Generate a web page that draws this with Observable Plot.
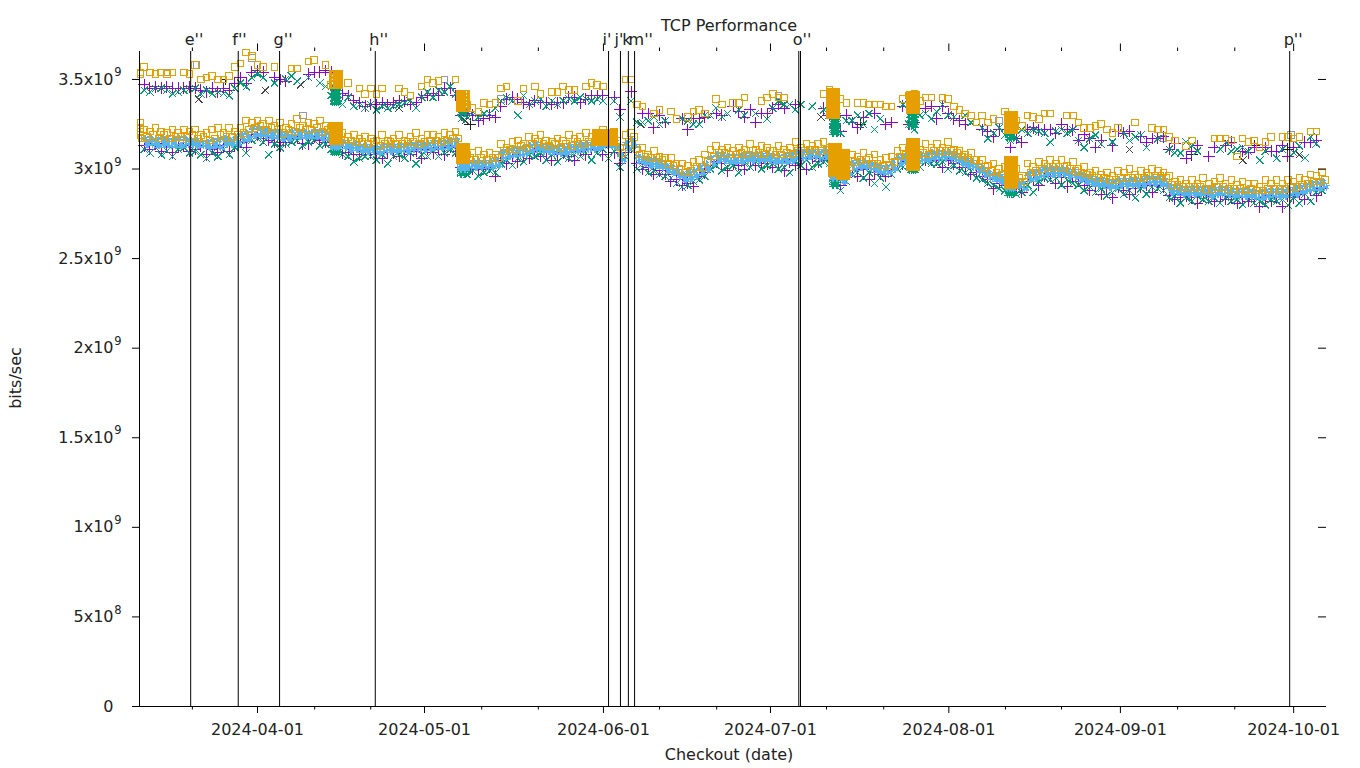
<!DOCTYPE html>
<html><head><meta charset="utf-8">
<style>html,body{margin:0;padding:0;background:#fff}svg{display:block}</style>
<script src="https://cdn.jsdelivr.net/npm/d3@7"></script>
<script src="https://cdn.jsdelivr.net/npm/@observablehq/plot@0.6"></script>
</head><body><div id="chart"></div>
<script>
// x values: days since 2024-04-01; throughput values: units of 10 Mbit/s
const days = d3.range(-20, 189);
const majorDays = [0, 29.5, 61.1, 90.6, 122.1, 152.4, 183];
const majorLabels = ["2024-04-01","2024-05-01","2024-06-01","2024-07-01","2024-08-01","2024-09-01","2024-10-01"];
const minorDays = [-11.5, 10.1, 20, 39.6, 49.6, 71, 81.1, 100.5, 110.6, 132.1, 142, 162.5, 172.6];
const yTicks = [0, 5e8, 1e9, 1.5e9, 2e9, 2.5e9, 3e9, 3.5e9];
const yMantissa = ["0","5x10","1x10","1.5x10","2x10","2.5x10","3x10","3.5x10"];
const yExponent = ["","8","9","9","9","9","9","9"];
const eventDays = [-11.8, -3.4, 3.9, 20.8, 62, 64.1, 65.5, 66.6, 95.6, 95.9, 182.3];
const eventLabels = ["e''","f''","g''","h''","i'","j'","k","m''","o''","","p''"];

const lowBlueA = [
317,317,316,317,316,316,317,317,316,316,315,315,316,316,317,316,317,319,320,323,
323,322,321,321,320,320,321,321,321,320,321,321,320,318,317,315,314,314,313,313,
312,312,313,313,313,313,313,314,314,314,314,315,315,315,316,316,305,304,304,304,
304,304,305,309,310,311,311,312,313,314,313,313,312,312,312,313,313,314,314,314,
315,316,316,315,308,314,316,307,306,305,305,304,302,301,299,297,298,299,301,303,
306,308,308,307,307,307,308,308,308,308,308,307,307,307,308,309,309,310,310,309,
310,309,301,296,300,303,304,304,303,302,301,301,303,306,307,308,307,308,308,309,
309,309,309,308,306,305,304,302,300,298,297,296,295,296,294,292,297,298,299,300,
300,300,300,299,299,297,296,295,294,294,293,293,294,294,294,294,294,295,295,295,
294,290,290,289,289,289,289,289,288,289,289,289,288,288,288,288,287,287,288,288,
288,288,289,289,290,291,292,292,293];
const lowBlueB = [
314,314,313,314,313,313,313,314,314,313,313,312,313,312,314,314,314,316,317,319,
319,319,318,318,317,317,318,318,318,318,318,317,317,315,314,312,311,311,310,310,
310,309,310,310,310,310,310,311,311,311,311,312,312,312,313,312,302,301,301,301,
301,301,302,306,307,308,308,309,310,311,310,310,309,309,309,310,310,311,311,311,
312,313,313,312,305,311,313,304,303,302,302,301,299,298,296,294,295,296,298,300,
303,305,305,304,304,304,305,305,305,305,305,304,304,304,305,306,306,307,307,306,
307,306,298,293,297,300,301,301,300,299,298,298,300,303,304,305,304,305,305,306,
306,306,306,305,303,302,301,299,297,295,294,293,292,293,291,289,294,295,296,297,
297,297,297,296,296,294,293,292,291,291,290,290,291,291,291,291,291,292,292,292,
291,287,287,286,286,286,286,286,285,286,286,286,285,285,285,285,284,284,285,285,
285,285,286,286,287,288,289,289,290];
const lowOrangeA = [
322,321,323,321,320,322,320,322,321,322,319,320,322,323,320,323,321,323,327,326,
327,325,327,324,326,323,325,328,324,326,325,327,324,323,321,320,318,319,317,318,
317,316,319,316,317,319,316,318,320,317,319,319,318,320,319,321,310,308,309,310,
308,309,308,314,312,315,316,314,318,317,319,316,315,317,316,319,317,318,320,318,
320,322,319,321,312,319,320,311,312,308,310,307,306,306,303,303,302,304,305,308,
311,313,311,312,310,312,311,314,311,313,312,310,313,311,312,315,312,314,313,314,
315,312,306,300,304,308,307,309,306,308,305,306,307,310,312,311,313,311,314,312,
314,312,315,311,310,308,309,305,305,302,303,300,301,299,300,296,303,301,304,303,
305,303,305,302,304,300,301,298,299,297,298,296,299,298,300,297,299,298,300,299,
298,296,293,294,292,294,292,295,292,293,295,292,294,291,293,292,292,290,294,292,
294,292,294,293,295,294,297,296,298];
const lowOrangeB = [
318,319,317,319,317,318,318,318,319,317,318,316,317,319,318,318,319,320,322,323,
324,322,323,322,320,322,321,323,322,322,323,321,322,319,319,316,316,315,315,314,
315,313,314,315,314,314,315,315,314,315,316,316,315,316,317,317,306,306,305,306,
305,306,306,310,311,311,313,312,314,315,314,313,314,312,314,313,315,314,315,315,
316,317,318,316,309,315,318,308,307,306,306,305,303,302,300,298,299,301,301,304,
307,309,309,308,308,309,308,310,309,308,310,308,308,309,308,310,310,311,311,310,
311,310,302,297,301,304,305,305,303,303,302,302,304,307,308,309,308,309,308,310,
310,310,310,309,307,306,305,303,301,299,298,297,296,297,295,293,298,299,300,301,
301,301,301,300,299,298,297,296,295,295,294,294,295,295,295,295,295,296,296,296,
295,291,291,290,290,290,290,289,289,290,290,289,289,289,288,289,288,288,289,289,
289,289,290,290,291,292,293,293,294];
const lowGreen = [
311,309,312,308,310,307,311,312,309,310,308,306,309,307,311,308,312,313,309,316,
317,315,308,314,312,314,315,316,313,315,316,313,314,311,310,308,307,304,306,307,
307,305,308,303,307,308,306,309,303,308,307,310,307,309,311,309,299,297,299,296,
298,299,298,303,305,302,306,304,308,307,309,305,308,304,307,306,308,307,309,305,
309,311,306,310,301,307,311,300,301,298,299,297,296,295,292,290,291,293,294,296,
300,302,299,301,302,298,303,301,304,300,302,303,300,301,298,304,302,305,301,303,
304,303,293,288,293,297,298,295,298,292,295,290,297,300,301,302,303,301,304,303,
303,304,300,302,299,298,299,295,294,292,291,289,288,290,286,287,291,287,293,295,
294,295,291,294,292,291,288,290,287,289,285,287,289,286,288,284,289,286,290,289,
288,284,285,281,284,282,285,283,282,284,281,284,282,283,280,283,281,282,280,283,
282,283,280,284,281,286,282,287,288];
const lowPurple = [
313,311,314,310,312,309,312,313,310,311,313,308,311,309,313,310,313,315,312,318,
319,317,316,315,313,315,317,317,314,314,318,316,315,313,312,309,309,308,308,310,
309,308,306,309,309,307,310,308,310,306,311,309,311,308,312,310,301,299,300,300,
300,301,296,305,303,307,304,308,306,310,307,309,305,308,309,307,305,310,308,311,
311,308,312,309,303,309,312,303,300,301,297,299,297,293,294,291,292,290,296,298,
302,304,303,299,303,302,300,304,302,304,303,301,303,299,304,302,306,300,306,304,
306,305,296,291,295,299,296,300,294,298,297,296,299,302,303,304,301,303,305,305,
305,301,305,303,301,301,297,298,296,294,289,292,291,288,290,287,293,294,291,296,
296,292,295,290,295,293,291,288,290,286,289,284,290,288,286,289,290,291,287,291,
290,285,283,284,285,284,281,285,284,282,285,283,284,281,284,282,283,279,284,282,
284,279,285,284,286,283,288,285,289];

const upOrange = [
357,354,353,354,353,354,null,354,353,358,350,351,352,350,350,352,357,359,365,363,
358,357,null,357,null,null,356,356,null,360,361,null,358,347,350,null,348,null,345,342,
345,342,345,null,null,345,343,341,null,346,350,348,349,null,null,350,340,336,334,332,
337,336,337,345,346,null,338,345,null,346,342,null,343,343,346,344,344,null,346,348,
347,346,null,null,null,350,350,336,335,null,331,333,null,332,328,null,329,332,333,331,
null,339,336,null,337,337,340,null,null,338,340,342,340,340,null,null,null,null,null,null,
342,344,340,339,337,null,337,337,336,336,336,335,335,null,339,341,342,338,340,340,
null,340,339,335,333,331,330,326,330,326,328,null,332,329,327,324,330,329,328,331,
331,null,null,330,330,326,323,323,324,325,322,320,323,null,null,326,null,null,323,322,
322,318,316,null,313,316,null,null,null,317,317,317,316,307,317,315,316,312,315,318,
null,318,318,317,318,null,321,321,null];
const upPurple = [
347,345,346,345,346,345,345,345,346,345,344,343,345,343,345,344,348,351,348,354,
355,354,null,351,350,349,null,null,null,353,354,354,355,354,344,342,341,338,337,335,
336,336,337,336,337,338,338,336,337,340,341,342,341,345,345,341,330,331,330,327,
328,330,329,335,339,340,339,337,336,338,337,337,336,337,337,340,340,337,339,341,
341,341,null,340,333,null,343,null,331,331,323,330,326,null,null,328,322,328,328,329,
null,331,330,null,335,332,329,333,326,331,331,334,336,334,null,336,null,null,null,null,
334,330,324,321,330,326,323,329,null,331,null,325,326,null,335,325,326,null,334,335,
328,335,331,328,327,325,null,null,322,321,318,322,322,312,317,315,322,323,322,322,
322,320,325,322,322,316,319,317,312,316,null,313,321,320,321,null,318,315,317,317,
318,311,314,null,306,310,313,null,307,312,null,313,315,null,310,309,312,null,312,310,
310,313,307,312,null,315,315,316,null];
const upGreen = [
344,343,345,345,344,342,343,344,345,345,342,344,342,343,342,341,345,348,346,351,
353,351,null,348,null,350,352,349,null,351,null,348,346,341,338,336,340,335,336,334,
336,333,335,334,335,336,337,338,334,340,343,340,344,343,346,342,328,329,331,329,
331,331,334,338,340,338,330,341,336,338,339,335,338,336,338,339,338,340,339,338,
339,338,null,338,329,null,338,326,326,327,329,325,327,null,null,328,327,325,325,330,
330,334,329,331,null,333,330,null,331,null,328,334,338,336,336,333,336,null,335,null,
333,330,322,320,327,327,330,325,331,322,328,null,null,null,336,325,322,330,331,328,
332,336,330,329,null,330,326,null,323,317,320,323,319,316,317,322,320,322,321,320,
315,321,322,320,322,316,312,317,319,314,null,315,null,320,316,318,319,312,null,317,
null,311,309,309,315,313,310,null,null,null,311,315,310,311,312,310,null,305,310,null,
306,311,null,309,313,306,318,314,null];

// repeated runs on the busy checkout days
const denseRuns = [-0.5, -0.2, 0.2, 0.5];
const denseOrange = [
 {day: 13.8, levels: [324,323,322,321,320,319,318,317,316]},
 {day: 36.3, levels: [312,311,310,309,308,307,306,305]},
 {day: 60.4, levels: [320,319,318,317,316,315]},
 {day: 62.4, levels: [320,319,318,317,316,315]},
 {day: 102, levels: [312,311,310,309,308,307,306,305,304,303,302,301,300,299,298]},
 {day: 103.4, levels: [309,308,307,306,305,304,303,302,301,300,299,298,297,296]},
 {day: 115.7, levels: [315,314,313,312,311,310,309,308,307,306,305,304,303,302,301]},
 {day: 133, levels: [305,304,303,302,301,300,299,298,297,296,295,294,293,292,291]},
 {day: 13.8, levels: [353,351,349,347]},
 {day: 36.3, levels: [342,340,338,336,334]},
 {day: 101.6, levels: [343,342,341,340,339,338,337,336,335,334,333,332,331,330]},
 {day: 115.7, levels: [341,340,339,338,337,336,335,334,333]},
 {day: 133, levels: [330,329,328,327,326,325,324,323,322]}
];
const denseGreen = [
 {day: 13.8, levels: [345,343,341,339,337,311,310,309]},
 {day: 36.3, levels: [333,331,299,298,297]},
 {day: 102, levels: [330,328,326,324,322,320,296,295,293,292,291]},
 {day: 115.7, levels: [332,330,328,326,324,301,300,299]},
 {day: 133, levels: [321,319,317,291,289,288,287,286]}
];
const denseBlue = [
 {day: 13.8, levels: [315,314,313,312]},
 {day: 36.3, levels: [304,303,302,301,300]},
 {day: 102, levels: [298,297,296,295]},
 {day: 115.7, levels: [305,304,303,302]},
 {day: 133, levels: [292,291,290,289]}
];
const leftOrangeDays = [-20.7, -20.7, -20.7, -20.7, -20.5, -20.7, -20.7];
const leftOrangeVals = [326, 323, 321, 319, 317, 354, 353];
const graySquareDays = [-16, -10.8, -1, 8, 33, 37, 43, 92, 101, 131, 160, 182.5, 186];
const graySquareVals = [354, 358, 362, 330, 350, 335, 339, 341, 330, 327, 317, 319, 321];
const darkTimesDays = [-10.4, 1.4, 7.6, 25, 36.7, 67.7, 99.5, 154, 174, 184];
const darkTimesVals = [339, 344, 347, 334, 327, 325, 329, 311, 305, 308];
const darkPlusDays = [-5.6, 37.6, 106.5, 165, 176, 182];
const darkPlusVals = [350, 325, 325, 308, 313, 311];

const table = (ds, vs, off = 0) => ds.map((d, i) => ({d: d + off, v: vs[i]})).filter(r => r.v != null);
const expand = cols => cols.flatMap(c => c.levels.flatMap(v => denseRuns.map(o => ({d: c.day + o, v}))));
const xv = r => r.d, yv = r => r.v * 1e7;
const pt = (data, symbol, r, stroke, strokeWidth = 1) => Plot.dot(data, {x: xv, y: yv, symbol, r, stroke, fill: "none", strokeWidth, shapeRendering: "crispEdges"});
const xMin = -20.84, xMax = 188.8, yMax = 3.656e9;
const px = 3.656e9 / 655; // one pixel in y units
const dpx = 1 / 5.661;    // one pixel in x units
const tickLabel = new Map(majorDays.map((d, i) => [d, majorLabels[i]]));
const PURPLE = "#9400d3", GREEN = "#009e73", BLUE = "#56b4e9", ORANGE = "#e69f00";
const FS = 16, INK = "#222";
const yRows = yTicks.map((v, i) => ({v, m: yMantissa[i], e: yExponent[i]}));

const chart = Plot.plot({
  width: 1360, height: 768,
  marginLeft: 139, marginRight: 34, marginTop: 51, marginBottom: 62,
  style: {fontFamily: "'DejaVu Sans', sans-serif", fontSize: "16px", color: INK, background: "#fff", overflow: "visible"},
  x: {domain: [xMin, xMax], axis: null},
  y: {domain: [0, yMax], axis: null},
  marks: [
    pt(table(graySquareDays, graySquareVals), "square", 3.7, "#9a9a9a"),
    pt(table(darkTimesDays, darkTimesVals), "times", 3.45, "#444"),
    pt(table(darkPlusDays, darkPlusVals), "plus", 3.9, "#222"),
    pt(table(days, upPurple), "plus", 3.9, PURPLE),
    pt(table(days, lowPurple), "plus", 3.9, PURPLE),
    pt(table(days, upGreen), "times", 3.45, GREEN),
    pt(table(days, lowGreen), "times", 3.45, GREEN),
    pt(expand(denseGreen), "asterisk", 3.3, GREEN),
    pt(table(days, lowBlueB, 0.5), "asterisk", 3.4, BLUE, 1.2),
    pt(table(days, lowBlueB, 0.75), "asterisk", 3.4, BLUE, 1.2),
    pt(table(days, lowBlueA), "asterisk", 3.4, BLUE, 1.2),
    pt(table(days, lowBlueA, 0.25), "asterisk", 3.4, BLUE, 1.2),
    pt(expand(denseBlue), "asterisk", 3.4, BLUE, 1.2),
    pt(table(days, upOrange), "square", 3.7, ORANGE),
    pt(table(days, lowOrangeB, 0.5), "square", 3.7, ORANGE),
    pt(table(days, lowOrangeA), "square", 3.7, ORANGE),
    pt(table(leftOrangeDays, leftOrangeVals), "square", 3.7, ORANGE),
    pt(expand(denseOrange), "square", 3.7, ORANGE, 1.8),
    Plot.ruleX(eventDays, {y1: 0, y2: yMax, stroke: "#000", strokeWidth: 1}),
    Plot.ruleX([xMin], {y1: 0, y2: yMax, stroke: "#000"}),
    Plot.ruleY([0], {stroke: "#000"}),
    Plot.axisX({anchor: "bottom", ticks: majorDays, tickFormat: d => tickLabel.get(d), tickSize: 7, tickPadding: 10, label: null, stroke: "#000", fontSize: FS}),
    Plot.ruleX(minorDays, {y1: 0, y2: -3.5 * px, stroke: "#000"}),
    Plot.ruleX(majorDays, {y1: yMax, y2: yMax + 7.5 * px, stroke: "#000"}),
    Plot.ruleX(minorDays, {y1: yMax, y2: yMax + 3.5 * px, stroke: "#000"}),
    Plot.ruleY(yTicks, {x1: xMin - 7 * dpx, x2: xMin, stroke: "#000"}),
    Plot.ruleY(yTicks, {x1: xMax - 8 * dpx, x2: xMax, stroke: "#000"}),
    Plot.text(yRows, {x: () => xMin, y: "v", text: "m", textAnchor: "end", fill: INK, fontSize: FS, dx: -26}),
    Plot.text(yRows, {x: () => xMin, y: "v", text: "e", textAnchor: "end", fill: INK, fontSize: 11.5, dx: -18, dy: -7}),
    Plot.text(eventLabels.map((t, i) => ({t, d: eventDays[i]})).filter(r => r.t), {x: "d", y: () => yMax, text: "t", textAnchor: "start", dx: -6, dy: -12, fill: INK, fontSize: FS}),
    Plot.text(["TCP Performance"], {frameAnchor: "top", dx: -4, dy: -31.5, fill: INK, fontSize: FS}),
    Plot.text(["Checkout (date)"], {frameAnchor: "bottom", dx: -4, dy: 53, fill: INK, fontSize: FS}),
    Plot.text(["bits/sec"], {frameAnchor: "left", textAnchor: "middle", dx: -124, dy: -1, rotate: -90, fill: INK, fontSize: FS})
  ]
});
document.getElementById("chart").appendChild(chart);
</script></body></html>
